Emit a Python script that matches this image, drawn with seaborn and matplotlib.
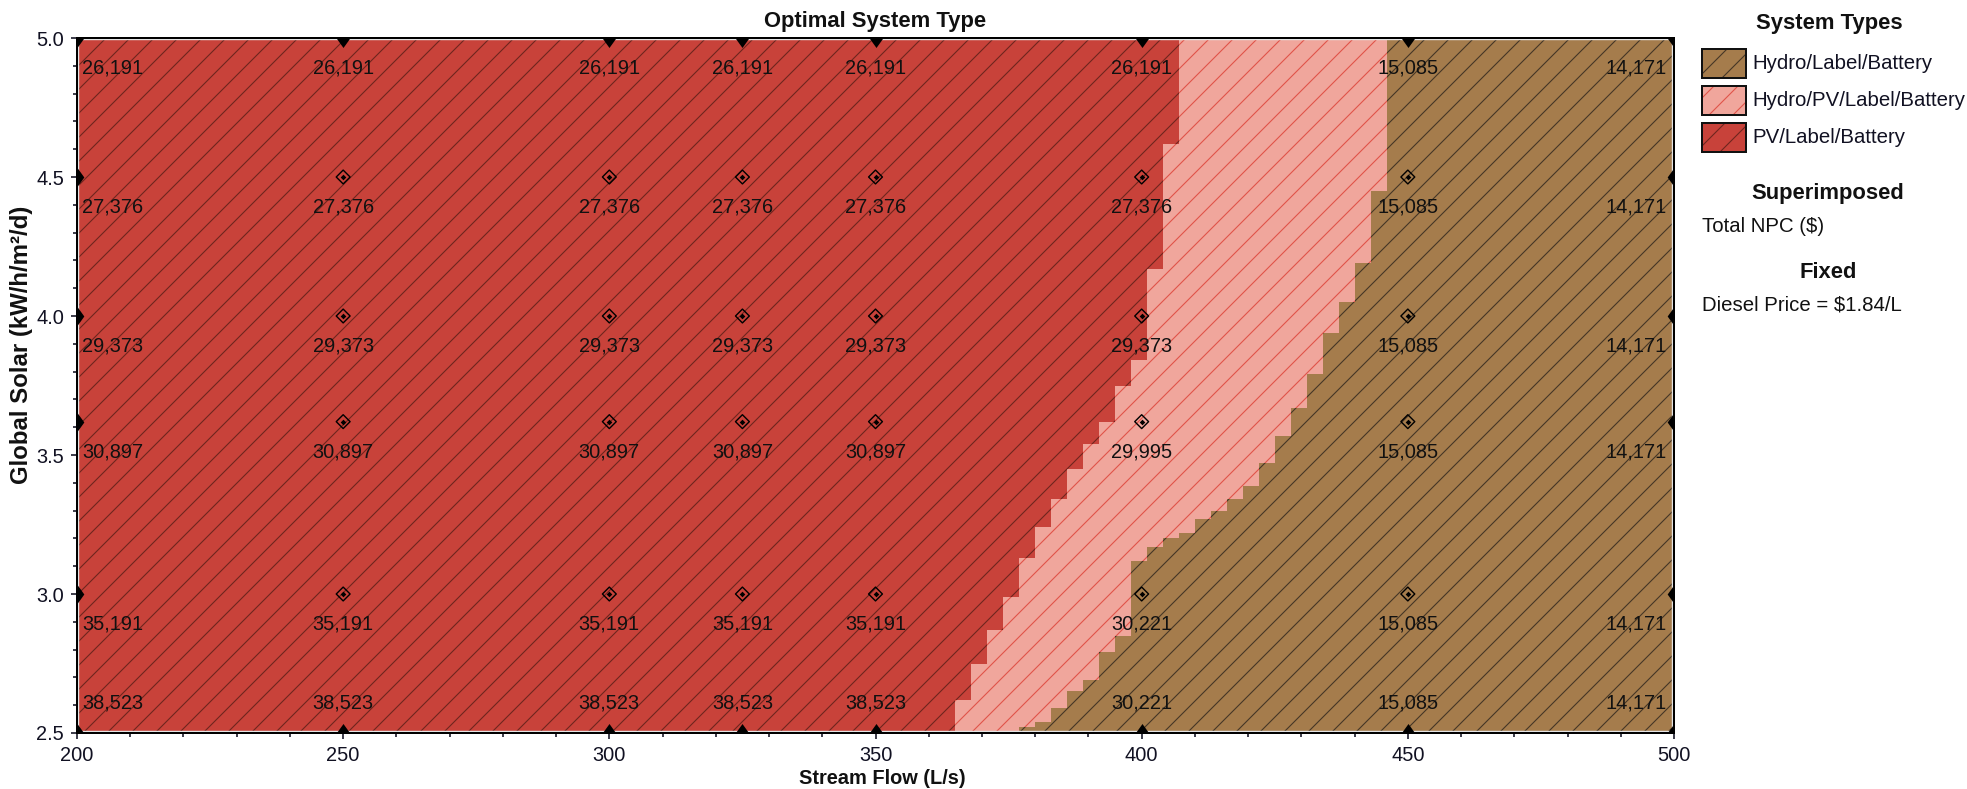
import numpy as np
import pandas as pd
import matplotlib
import matplotlib.pyplot as plt
from matplotlib.patches import Rectangle
from matplotlib.markers import MarkerStyle
import seaborn as sns

# sensitivity grid
stream_flow = [200, 250, 300, 325, 350, 400, 450, 500]
global_solar = [2.5, 3.0, 3.62, 4.0, 4.5, 5.0]

# Total NPC ($) for each stream flow, from the lowest solar value up
npc = {
    200: [38523, 35191, 30897, 29373, 27376, 26191],
    250: [38523, 35191, 30897, 29373, 27376, 26191],
    300: [38523, 35191, 30897, 29373, 27376, 26191],
    325: [38523, 35191, 30897, 29373, 27376, 26191],
    350: [38523, 35191, 30897, 29373, 27376, 26191],
    400: [30221, 30221, 29995, 29373, 27376, 26191],
    450: [15085, 15085, 15085, 15085, 15085, 15085],
    500: [14171, 14171, 14171, 14171, 14171, 14171],
}

# border PV/Label/Battery | Hydro/PV/Label/Battery, steps from top to bottom
pv_hyb_solar = [5.0, 4.62, 4.17, 3.84, 3.75, 3.62, 3.54, 3.45, 3.34, 3.24,
                3.13, 2.99, 2.87, 2.75, 2.62, 2.5]
pv_hyb_flow = [407, 404, 401, 398, 395, 392, 389, 386, 383, 380, 377, 374,
               371, 368, 365]

# border Hydro/PV/Label/Battery | Hydro/Label/Battery
hyb_hydro_solar = [5.0, 4.45, 4.19, 4.05, 3.94, 3.79, 3.67, 3.57, 3.47, 3.39,
                   3.34, 3.30, 3.27, 3.22, 3.20, 3.17, 3.12, 2.85, 2.79, 2.69,
                   2.65, 2.59, 2.54, 2.52, 2.5]
hyb_hydro_flow = [446, 443, 440, 437, 434, 431, 428, 425, 422, 419, 416, 413,
                  410, 407, 404, 401, 398, 395, 392, 389, 386, 383, 380, 377]

system_types = ['Hydro/Label/Battery', 'Hydro/PV/Label/Battery', 'PV/Label/Battery']
face = {'Hydro/Label/Battery': '#a57c4c',
        'Hydro/PV/Label/Battery': '#f0a69c',
        'PV/Label/Battery': '#c8423a'}
hatchc = {'Hydro/Label/Battery': '#453626',
          'Hydro/PV/Label/Battery': '#e0544a',
          'PV/Label/Battery': '#6e251e'}


def step_path(solar, flow):
    xs, ys = [], []
    for i, f in enumerate(flow):
        xs += [f, f]
        ys += [solar[i], solar[i + 1]]
    return xs, ys


DPI = 144
W, H = 1967, 789
sns.set_theme(style='ticks')
plt.rcParams['font.family'] = ['Liberation Sans', 'DejaVu Sans']
plt.rcParams['hatch.linewidth'] = 0.55

fig = plt.figure(figsize=(W / DPI, H / DPI), dpi=DPI)
ax = fig.add_axes([77 / W, 1 - 733 / H, (1674 - 77) / W, (733 - 38) / H])

x0, x1 = min(stream_flow), max(stream_flow)
y0, y1 = min(global_solar), max(global_solar)

# regions: red everywhere, then pink and brown on top
red = 'PV/Label/Battery'
ax.fill([x0, x0, x1, x1], [y0, y1, y1, y0], facecolor=face[red],
        edgecolor=hatchc[red], hatch='//', linewidth=0, zorder=1)
px, py = step_path(pv_hyb_solar, pv_hyb_flow)
hyb = 'Hydro/PV/Label/Battery'
ax.fill(px + [x1, x1], py + [y0, y1], facecolor=face[hyb],
        edgecolor=hatchc[hyb], hatch='//', linewidth=0, zorder=1.1)
bx, by = step_path(hyb_hydro_solar, hyb_hydro_flow)
hyd = 'Hydro/Label/Battery'
ax.fill(bx + [x1, x1], by + [y0, y1], facecolor=face[hyd],
        edgecolor=hatchc[hyd], hatch='//', linewidth=0, zorder=1.2)

# pale inner frame
ax.add_patch(Rectangle((0, 0), 1, 1, transform=ax.transAxes, fill=False,
                       edgecolor='#e4e4e4', linewidth=2.2, zorder=2))

# sensitivity points
rows = []
for f in stream_flow:
    for s, v in zip(global_solar, npc[f]):
        rows.append({'flow': f, 'solar': s, 'npc': v})
df = pd.DataFrame(rows)
on_edge = df.flow.isin([x0, x1]) | df.solar.isin([y0, y1])

edge_marker = MarkerStyle([(-0.72, 0), (0, 1), (0.72, 0), (0, -1), (-0.72, 0)])
sns.scatterplot(data=df[on_edge], x='flow', y='solar', marker=edge_marker,
                s=90, color='black', linewidth=0, ax=ax, zorder=4, legend=False)
inner = df[~on_edge]
ax.scatter(inner.flow, inner.solar, marker='D', s=24, facecolors='none',
           edgecolors='black', linewidths=0.7, zorder=4)
ax.scatter(inner.flow, inner.solar, marker='D', s=4, color='black',
           linewidths=0, zorder=4)

for _, r in df.iterrows():
    if r.flow == x0:
        ha, dx = 'left', 2.5
    elif r.flow == x1:
        ha, dx = 'right', -3.5
    else:
        ha, dx = 'center', 0
    dy = 15 if r.solar == y0 else -15
    ax.annotate(f"{int(r.npc):,}", (r.flow, r.solar), xytext=(dx, dy),
                textcoords='offset points', ha=ha, va='center',
                fontsize=10, color='#111111', zorder=5)

ax.set_xlim(x0, x1)
ax.set_ylim(y0, y1)
ax.set_xticks(np.arange(200, 501, 50))
ax.set_xticks(np.arange(200, 501, 10), minor=True)
ax.set_yticks(np.arange(2.5, 5.01, 0.5))
ax.set_yticks(np.arange(2.5, 5.01, 0.1), minor=True)
ax.set_yticklabels([f"{t:.1f}" for t in np.arange(2.5, 5.01, 0.5)])
ax.tick_params(which='major', length=3, width=0.8, pad=3.5, labelsize=10,
               colors='#111122')
ax.tick_params(which='minor', length=1.8, width=0.8, colors='#111122')
ax.set_xlabel('')
ax.set_ylabel('')
for sp in ax.spines.values():
    sp.set_color('black')
    sp.set_linewidth(1.0)
    sp.set_zorder(3)


def fx(p):
    return p / W


def fy(p):
    return 1 - p / H


fig.text(fx(875), fy(22), 'Optimal System Type', ha='center', va='center',
         fontsize=11, fontweight='bold', color='#111111')
fig.text(fx(882), fy(778), 'Stream Flow (L/s)', ha='center', va='center',
         fontsize=10, fontweight='bold', color='#111111')
fig.text(fx(22), fy(345), 'Global Solar (kW/h/m²/d)', ha='center', va='center',
         rotation=90, fontsize=12, fontweight='bold', color='#111111')

# legend
fig.text(fx(1829), fy(23), 'System Types', ha='center', va='center',
         fontsize=11, fontweight='bold', color='#111111')
for i, name in enumerate(system_types):
    top = 49 + 37 * i
    fig.add_artist(Rectangle((fx(1702), fy(top + 29)), fx(44), 29 / H,
                             transform=fig.transFigure, facecolor=face[name],
                             edgecolor=hatchc[name], hatch='//', linewidth=0))
    fig.add_artist(Rectangle((fx(1702), fy(top + 29)), fx(44), 29 / H,
                             transform=fig.transFigure, fill=False,
                             edgecolor='#111111', linewidth=1.0))
    fig.text(fx(1752), fy(top + 14.5), name, ha='left', va='center',
             fontsize=10.2, color='#111122')

fig.text(fx(1828), fy(193), 'Superimposed', ha='center', va='center',
         fontsize=11, fontweight='bold', color='#111111')
fig.text(fx(1702), fy(227), 'Total NPC ($)', ha='left', va='center',
         fontsize=10.2, color='#111111')
fig.text(fx(1828), fy(273), 'Fixed', ha='center', va='center',
         fontsize=11, fontweight='bold', color='#111111')
fig.text(fx(1702), fy(305), 'Diesel Price = $1.84/L', ha='left', va='center',
         fontsize=10.2, color='#111111')

fig.savefig('out.png', dpi=DPI)
